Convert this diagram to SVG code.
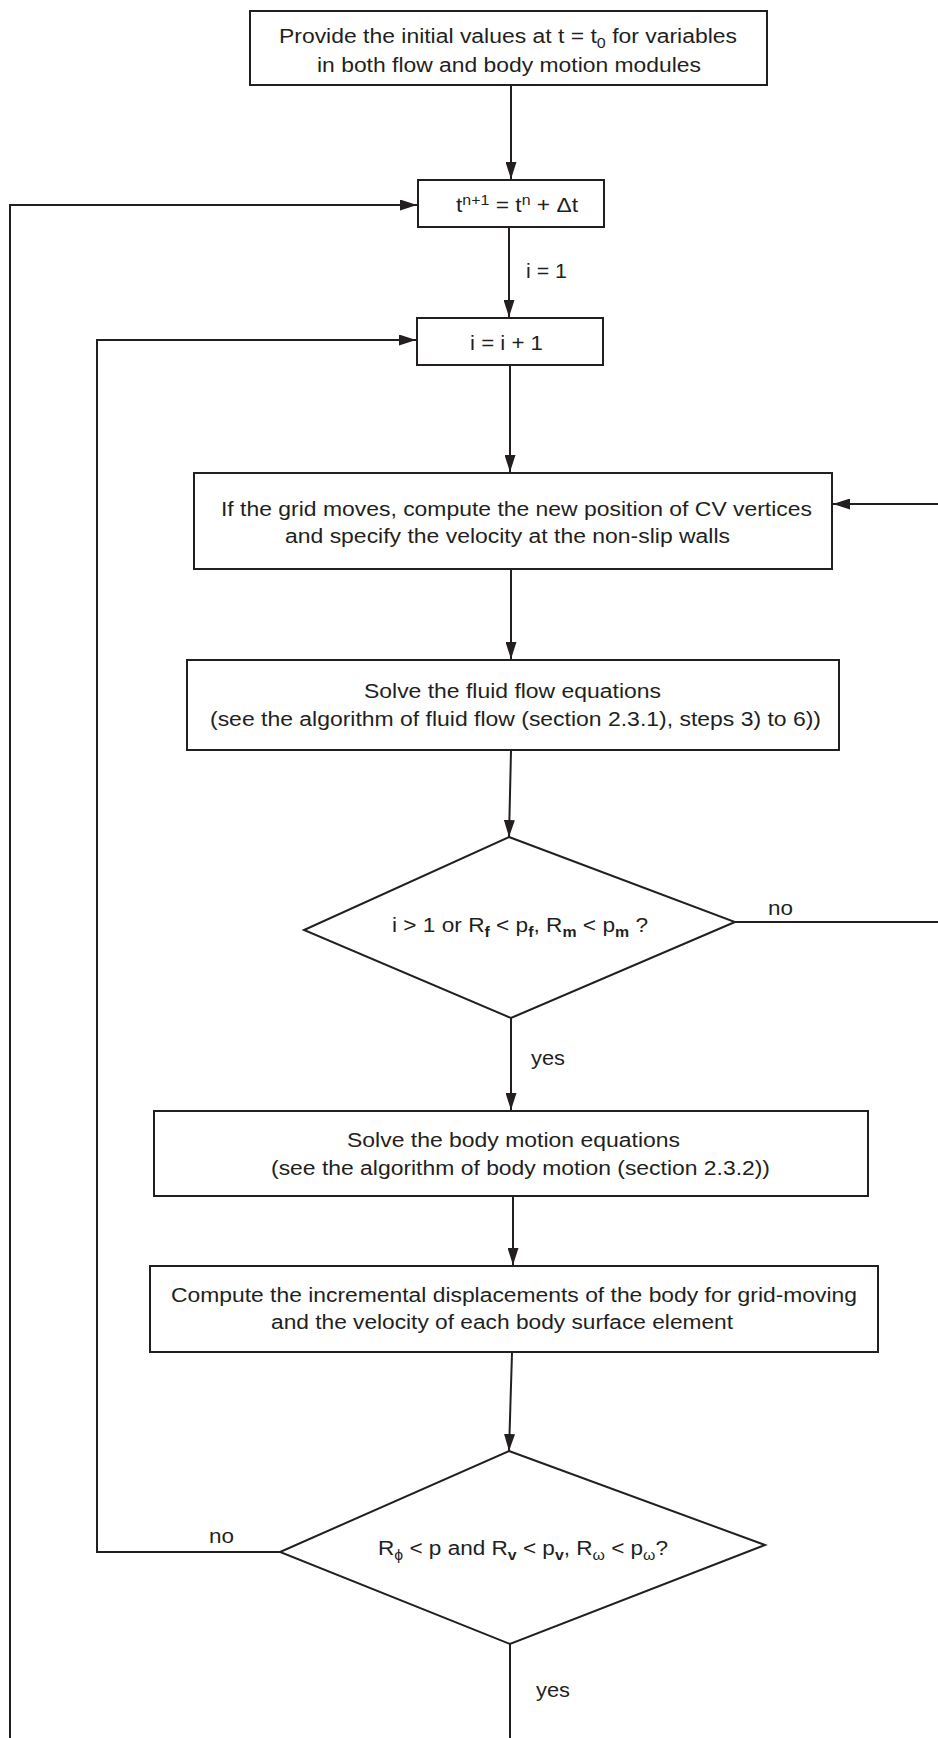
<svg xmlns="http://www.w3.org/2000/svg" width="938" height="1738" viewBox="0 0 938 1738">
<style>
.box{fill:#ffffff;stroke:#231f20;stroke-width:2}
.ln{fill:none;stroke:#231f20;stroke-width:2}
.t{font-family:"Liberation Sans",Arial,Helvetica,sans-serif;font-size:20px;fill:#231f20}
.s{font-size:14px}
.b{font-weight:bold}
</style>
<defs>
<marker id="ah" viewBox="0 0 17 11" refX="17" refY="5.5" markerWidth="17" markerHeight="11" markerUnits="userSpaceOnUse" orient="auto">
<path d="M0,0 L17,5.5 L0,11 z" fill="#231f20"/>
</marker>
</defs>
<rect width="938" height="1738" fill="#ffffff"/>
<g id="connectors">
<line class="ln" x1="511" y1="86" x2="511" y2="179" marker-end="url(#ah)"/>
<line class="ln" x1="509" y1="228" x2="509" y2="317" marker-end="url(#ah)"/>
<line class="ln" x1="510" y1="366" x2="510" y2="472" marker-end="url(#ah)"/>
<line class="ln" x1="511" y1="570" x2="511" y2="659" marker-end="url(#ah)"/>
<line class="ln" x1="511" y1="751" x2="509" y2="837" marker-end="url(#ah)"/>
<line class="ln" x1="511" y1="1018" x2="511" y2="1110" marker-end="url(#ah)"/>
<line class="ln" x1="513" y1="1197" x2="513" y2="1265" marker-end="url(#ah)"/>
<line class="ln" x1="512" y1="1353" x2="509" y2="1451" marker-end="url(#ah)"/>
<line class="ln" x1="510" y1="1644" x2="510" y2="1738"/>
<polyline class="ln" points="735,922 942,922 942,504 833,504" marker-end="url(#ah)"/>
<polyline class="ln" points="280,1552 97,1552 97,340 416,340" marker-end="url(#ah)"/>
<polyline class="ln" points="10,1738 10,205 417,205" marker-end="url(#ah)"/>
<text class="t" x="526" y="278" textLength="41" lengthAdjust="spacingAndGlyphs">i = 1</text>
<text class="t" x="768" y="915" textLength="25" lengthAdjust="spacingAndGlyphs">no</text>
<text class="t" x="531" y="1065" textLength="34" lengthAdjust="spacingAndGlyphs">yes</text>
<text class="t" x="209" y="1543" textLength="25" lengthAdjust="spacingAndGlyphs">no</text>
<text class="t" x="536" y="1697" textLength="34" lengthAdjust="spacingAndGlyphs">yes</text>
</g>
<g id="init">
<rect class="box" x="250" y="11" width="517" height="74"/>
<text class="t" x="279" y="43" textLength="458" lengthAdjust="spacingAndGlyphs">Provide the initial values at t = t<tspan class="s" dy="5">0</tspan><tspan dy="-5"> for variables</tspan></text>
<text class="t" x="317" y="72" textLength="384" lengthAdjust="spacingAndGlyphs">in both flow and body motion modules</text>
</g>
<g id="timestep">
<rect class="box" x="418" y="180" width="186" height="47"/>
<text class="t" x="456" y="212" textLength="122" lengthAdjust="spacingAndGlyphs">t<tspan class="s" dy="-7">n+1</tspan><tspan dy="7"> = t</tspan><tspan class="s" dy="-7">n</tspan><tspan dy="7"> + Δt</tspan></text>
</g>
<g id="iter">
<rect class="box" x="417" y="318" width="186" height="47"/>
<text class="t" x="470" y="350" textLength="73" lengthAdjust="spacingAndGlyphs">i = i + 1</text>
</g>
<g id="grid">
<rect class="box" x="194" y="473" width="638" height="96"/>
<text class="t" x="221" y="516" textLength="591" lengthAdjust="spacingAndGlyphs">If the grid moves, compute the new position of CV vertices</text>
<text class="t" x="285" y="543" textLength="445" lengthAdjust="spacingAndGlyphs">and specify the velocity at the non-slip walls</text>
</g>
<g id="fluid">
<rect class="box" x="187" y="660" width="652" height="90"/>
<text class="t" x="364" y="698" textLength="297" lengthAdjust="spacingAndGlyphs">Solve the fluid flow equations</text>
<text class="t" x="210" y="726" textLength="611" lengthAdjust="spacingAndGlyphs">(see the algorithm of fluid flow (section 2.3.1), steps 3) to 6))</text>
</g>
<g id="check1">
<polygon class="box" points="509,837 735,922 511,1018 304,930"/>
<text class="t" x="392" y="932" textLength="256" lengthAdjust="spacingAndGlyphs">i &gt; 1 or R<tspan class="s b" dy="5">f</tspan><tspan dy="-5"> &lt; p</tspan><tspan class="s b" dy="5">f</tspan><tspan dy="-5">, R</tspan><tspan class="s b" dy="5">m</tspan><tspan dy="-5"> &lt; p</tspan><tspan class="s b" dy="5">m</tspan><tspan dy="-5"> ?</tspan></text>
</g>
<g id="body">
<rect class="box" x="154" y="1111" width="714" height="85"/>
<text class="t" x="347" y="1147" textLength="333" lengthAdjust="spacingAndGlyphs">Solve the body motion equations</text>
<text class="t" x="271" y="1175" textLength="499" lengthAdjust="spacingAndGlyphs">(see the algorithm of body motion (section 2.3.2))</text>
</g>
<g id="compute">
<rect class="box" x="150" y="1266" width="728" height="86"/>
<text class="t" x="171" y="1302" textLength="686" lengthAdjust="spacingAndGlyphs">Compute the incremental displacements of the body for grid-moving</text>
<text class="t" x="271" y="1329" textLength="462" lengthAdjust="spacingAndGlyphs">and the velocity of each body surface element</text>
</g>
<g id="check2">
<polygon class="box" points="509,1451 765,1545 510,1644 280,1552"/>
<text class="t" x="378" y="1555" textLength="290" lengthAdjust="spacingAndGlyphs">R<tspan class="s" dy="5">ϕ</tspan><tspan dy="-5"> &lt; p and R</tspan><tspan class="s b" dy="5">v</tspan><tspan dy="-5"> &lt; p</tspan><tspan class="s b" dy="5">v</tspan><tspan dy="-5">, R</tspan><tspan class="s" dy="5">ω</tspan><tspan dy="-5"> &lt; p</tspan><tspan class="s" dy="5">ω</tspan><tspan dy="-5">?</tspan></text>
</g>
</svg>
